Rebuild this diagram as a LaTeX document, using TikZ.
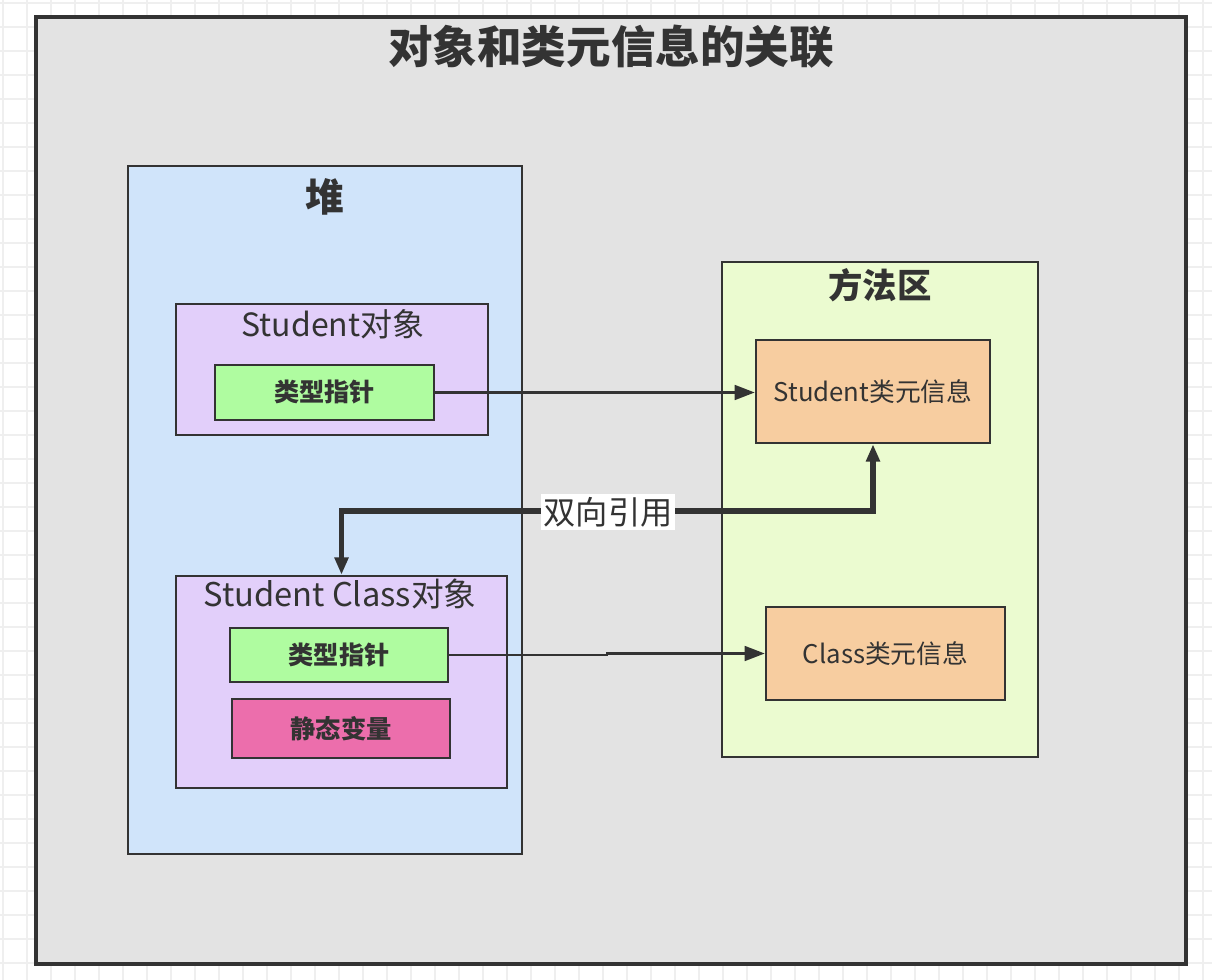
\documentclass[tikz,border=0pt]{standalone}
\usepackage{fontspec}
\setmainfont{Noto Sans CJK SC}
\usetikzlibrary{arrows.meta}
\definecolor{gridc}{HTML}{EFEFEF}
\definecolor{linec}{HTML}{333333}
\definecolor{outerc}{HTML}{E3E3E3}
\definecolor{heapc}{HTML}{D0E4FA}
\definecolor{methodc}{HTML}{EBFBD0}
\definecolor{lavc}{HTML}{E2CFFA}
\definecolor{greenc}{HTML}{AFFCA0}
\definecolor{pinkc}{HTML}{EC6EAC}
\definecolor{orangec}{HTML}{F7CDA0}
\tikzset{
  box/.style 2 args={draw=linec, line width=1.9pt, minimum width=#1*0.75pt, minimum height=#2*0.75pt, inner sep=0pt, text=linec},
  titletext/.style={text=linec, font=\bfseries\fontsize{#1}{#1}\selectfont, inner sep=0pt},
  plaintext/.style={text=linec, font=\fontsize{#1}{#1}\selectfont, inner sep=0pt},
  thinarrow/.style={draw=linec, line width=1.9pt, -{Triangle[length=15pt,width=11pt]}},
  thickarrow/.style={draw=linec, line width=3.8pt, {Triangle[length=13pt,width=10pt]}-{Triangle[length=13pt,width=10pt]}}
}
\begin{document}
\begin{tikzpicture}[x=0.75pt,y=-0.75pt]
\useasboundingbox (0,0) rectangle (1212,980);
\fill[white] (0,0) rectangle (1212,980);
\foreach \i in {0,...,50} {
  \draw[gridc, line width=1.2pt] ({3+24*\i},0) -- ({3+24*\i},980);
}
\foreach \i in {0,...,41} {
  \draw[gridc, line width=1.2pt] (0,{3+24*\i}) -- (1212,{3+24*\i});
}
% outer container
\node[box={1150}{947}, fill=outerc, line width=2.4pt] (outer) at (611,490.5) {};
\node[titletext=33.4pt] (title) at (611,47) {对象和类元信息的关联};
% heap
\node[box={394}{688}, fill=heapc] (heap) at (325,510) {};
\node[titletext=29pt] (heaptitle) at (325,197) {堆};
% method area
\node[box={316}{495}, fill=methodc] (method) at (880,509.5) {};
\node[titletext=25.8pt] (methodtitle) at (880,285) {方法区};
% Student object
\node[box={312}{131}, fill=lavc] (sobj) at (332,369.5) {};
\node[plaintext=24pt] (sobjtitle) at (333,324) {Student对象};
\node[box={219}{55}, fill=greenc, font=\bfseries\fontsize{18.9pt}{18.9pt}\selectfont] (g1) at (324.5,392.5) {类型指针};
% Student Class object
\node[box={331}{212}, fill=lavc] (scobj) at (341.5,682) {};
\node[plaintext=24.5pt] (scobjtitle) at (340,594) {Student Class对象};
\node[box={218}{54}, fill=greenc, font=\bfseries\fontsize{18.9pt}{18.9pt}\selectfont] (g2) at (339,655) {类型指针};
\node[box={218}{59}, fill=pinkc, font=\bfseries\fontsize{19pt}{19pt}\selectfont] (pink) at (341,728.5) {静态变量};
% meta info
\node[box={234}{103}, fill=orangec, font=\fontsize{19.3pt}{19.3pt}\selectfont] (smeta) at (873,391.5) {Student类元信息};
\node[box={239}{93}, fill=orangec, font=\fontsize{19.3pt}{19.3pt}\selectfont] (cmeta) at (885.5,653.5) {Class类元信息};
% connectors
\draw[thinarrow] (g1.east) -- (smeta.west |- g1.east);
\coordinate (jogA) at (607,655);
\coordinate (jogB) at (607,653.5);
\draw[thinarrow] (g2.east) -- (jogA) -- (jogB) -- (cmeta.west);
\coordinate (bend) at (0,511);
\draw[thickarrow] (smeta.south) -- (smeta.south |- bend) -- (scobj.north |- bend) -- (scobj.north);
\node[fill=white, text=linec, font=\fontsize{24.2pt}{24.2pt}\selectfont, inner sep=2pt] (ref) at (608,512) {双向引用};
\end{tikzpicture}
\end{document}
